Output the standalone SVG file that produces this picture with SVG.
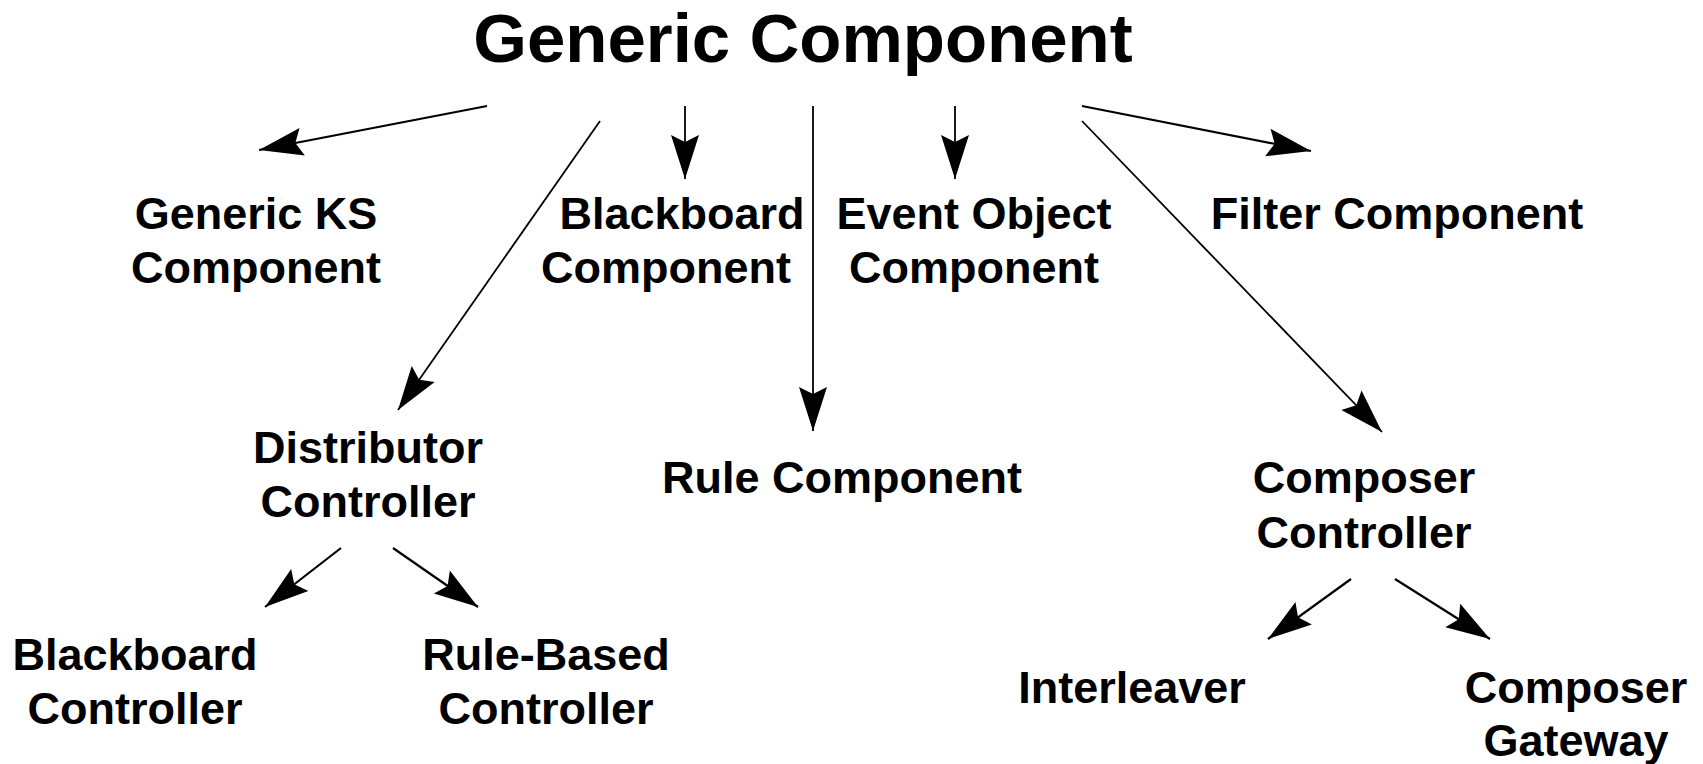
<svg xmlns="http://www.w3.org/2000/svg" width="1703" height="764" viewBox="0 0 1703 764">
<style>
  text { font-family: "Liberation Sans", Arial, Helvetica, sans-serif; font-weight: bold; fill: #000; text-anchor: middle; }
  .title { font-size: 69px; }
  .lbl { font-size: 45px; }
  .conn line { stroke: #000; stroke-width: 2.2; fill: none; marker-end: url(#ah); }
  .conn line.thin { stroke-width: 1.8; }
</style>
<defs>
  <marker id="ah" markerUnits="userSpaceOnUse" viewBox="-46 -15 48 30" refX="0" refY="0" markerWidth="48" markerHeight="30" orient="auto" overflow="visible">
    <path d="M0,0 L-44,-14 L-37,0 L-44,14 Z" fill="#000"/>
  </marker>
</defs>
<rect width="1703" height="764" fill="#fff"/>

<g id="generic-component"><text class="title" x="803" y="62">Generic Component</text></g>
<g id="generic-ks-component"><text class="lbl" x="256" y="229">Generic KS</text><text class="lbl" x="256" y="283">Component</text></g>
<g id="blackboard-component"><text class="lbl" x="682" y="229">Blackboard</text><text class="lbl" x="666" y="283">Component</text></g>
<g id="event-object-component"><text class="lbl" x="974" y="229">Event Object</text><text class="lbl" x="974" y="283">Component</text></g>
<g id="filter-component"><text class="lbl" x="1397" y="229">Filter Component</text></g>
<g id="distributor-controller"><text class="lbl" x="368" y="463">Distributor</text><text class="lbl" x="368" y="517">Controller</text></g>
<g id="rule-component"><text class="lbl" x="842" y="493">Rule Component</text></g>
<g id="composer-controller"><text class="lbl" x="1364" y="493">Composer</text><text class="lbl" x="1364" y="548">Controller</text></g>
<g id="blackboard-controller"><text class="lbl" x="135" y="670">Blackboard</text><text class="lbl" x="135" y="724">Controller</text></g>
<g id="rule-based-controller"><text class="lbl" x="546" y="670">Rule-Based</text><text class="lbl" x="546" y="724">Controller</text></g>
<g id="interleaver"><text class="lbl" x="1132" y="703">Interleaver</text></g>
<g id="composer-gateway"><text class="lbl" x="1576" y="703">Composer</text><text class="lbl" x="1576" y="756">Gateway</text></g>

<g id="connectors" class="conn">
  <line x1="487" y1="106" x2="259" y2="150"/>
  <line class="thin" x1="600" y1="121" x2="398" y2="410"/>
  <line class="thin" x1="685" y1="106" x2="685" y2="179"/>
  <line class="thin" x1="813" y1="106" x2="813" y2="431"/>
  <line class="thin" x1="955" y1="106" x2="955" y2="179"/>
  <line x1="1082" y1="106" x2="1311" y2="151"/>
  <line class="thin" x1="1082" y1="121" x2="1382" y2="432"/>
  <line x1="341" y1="548" x2="265" y2="607"/>
  <line x1="393" y1="548" x2="478" y2="607"/>
  <line x1="1351" y1="579" x2="1268" y2="639"/>
  <line x1="1395" y1="579" x2="1490" y2="639"/>
</g>
</svg>
